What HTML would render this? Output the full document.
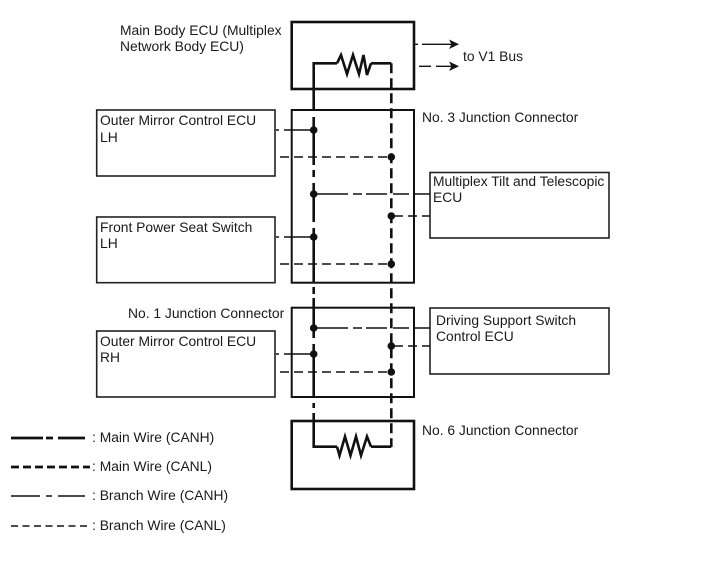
<!DOCTYPE html>
<html>
<head>
<meta charset="utf-8">
<style>
html,body{margin:0;padding:0;background:#fff;}
svg{display:block;}
text{font-family:"Liberation Sans",sans-serif;font-size:13.85px;fill:#1a1a1a;}
</style>
</head>
<body>
<svg width="713" height="581" viewBox="0 0 713 581" xmlns="http://www.w3.org/2000/svg">
<g fill="none" stroke="#111">
<!-- connector boxes -->
<rect x="291.7" y="22" width="122.3" height="67" stroke-width="2.6"/>
<rect x="291.7" y="110" width="122.3" height="172.7" stroke-width="2"/>
<rect x="291.7" y="307.7" width="122.3" height="89.3" stroke-width="2"/>
<rect x="291.7" y="421" width="122.3" height="68" stroke-width="2.6"/>
<!-- ECU boxes -->
<g stroke="#222" stroke-width="1.6">
<rect x="96.7" y="110" width="178.3" height="66"/>
<rect x="96.7" y="217" width="178.3" height="65.7"/>
<rect x="96.7" y="331" width="178.3" height="66"/>
<rect x="430" y="172.5" width="179" height="65.5"/>
<rect x="430" y="308" width="179" height="66"/>
</g>
<!-- main wire CANH -->
<path stroke-width="2.6" d="M313.7 111V63.3H337M313.7 117V165M313.7 170V177M313.7 183V222M313.7 228V282M313.7 287V294M313.7 298V338M313.7 344V397M313.7 403V408M313.7 413V446.7H337"/>
<!-- main wire CANL -->
<path stroke-width="2.6" d="M371 63.3H391.3M371 446.7H391.3"/>
<path stroke-width="2.6" stroke-dasharray="10 5" d="M391.3 63.3V447"/>
<!-- resistors -->
<path stroke-width="2.6" d="M337 63.3L341 55L347 74L353 55L359 74L363.5 55L367 75L371 63.3"/>
<path stroke-width="2.6" d="M337 446.7L339.5 455.5L345 436.5L350.5 455.5L356 436.5L361 455.5L367 436.5L371 446.7"/>
<!-- branches -->
<g stroke-width="1.4">
<path d="M276 130H279M284 130H313.7"/>
<path stroke-dasharray="9 5" d="M280 157H391"/>
<path d="M314 194H348M353 194H362M366 194H387M393 194H409M414 194H430"/>
<path stroke-dasharray="9 5" d="M394 216H430"/>
<path d="M276 237H279M284 237H313.7"/>
<path stroke-dasharray="9 5" d="M280 264H391"/>
<path d="M314 328H348M353 328H362M366 328H387M393 328H409M414 328H430"/>
<path stroke-dasharray="9 5" d="M394 346H430"/>
<path d="M276 354H279M284 354H313.7"/>
<path stroke-dasharray="9 5" d="M280 372H391"/>
<!-- arrows -->
<path d="M415 44.3H418M422 44.3H452"/>
<path d="M419 66.3H431M436 66.3H452"/>
</g>
<!-- legend -->
<path stroke-width="2.8" d="M11 438H43M46 438H53M58 438H85"/>
<path stroke-width="2.8" stroke-dasharray="8 4" d="M11 467H90"/>
<path stroke-width="1.4" d="M11 496H40M46 496H52M58 496H85"/>
<path stroke-width="1.4" stroke-dasharray="7 4.5" d="M11 526H90"/>
</g>
<!-- arrowheads -->
<path fill="#111" d="M459 44.3L449 39.5L451.5 44.3L449 49Z"/>
<path fill="#111" d="M459 66.3L449 61.5L451.5 66.3L449 71Z"/>
<!-- dots -->
<g fill="#111">
<circle cx="313.7" cy="130" r="3.8"/>
<circle cx="391.3" cy="157" r="3.8"/>
<circle cx="313.7" cy="194" r="3.8"/>
<circle cx="391.3" cy="216" r="3.8"/>
<circle cx="313.7" cy="237" r="3.8"/>
<circle cx="391.3" cy="264" r="3.8"/>
<circle cx="313.7" cy="328" r="3.8"/>
<circle cx="391.3" cy="346" r="3.8"/>
<circle cx="313.7" cy="354" r="3.8"/>
<circle cx="391.3" cy="372" r="3.8"/>
</g>
<!-- labels -->
<text x="120" y="35">Main Body ECU (Multiplex</text>
<text x="120" y="51">Network Body ECU)</text>
<text x="463" y="61">to V1 Bus</text>
<text x="422" y="122">No. 3 Junction Connector</text>
<text x="128" y="318">No. 1 Junction Connector</text>
<text x="422" y="435">No. 6 Junction Connector</text>
<text x="100" y="125">Outer Mirror Control ECU</text>
<text x="100" y="142">LH</text>
<text x="100" y="232">Front Power Seat Switch</text>
<text x="100" y="248">LH</text>
<text x="100" y="346">Outer Mirror Control ECU</text>
<text x="100" y="362">RH</text>
<text x="433" y="186">Multiplex Tilt and Telescopic</text>
<text x="433" y="202">ECU</text>
<text x="436" y="325">Driving Support Switch</text>
<text x="436" y="341">Control ECU</text>
<text x="92" y="442">: Main Wire (CANH)</text>
<text x="92" y="471">: Main Wire (CANL)</text>
<text x="92" y="500">: Branch Wire (CANH)</text>
<text x="92" y="530">: Branch Wire (CANL)</text>
</svg>
</body>
</html>
